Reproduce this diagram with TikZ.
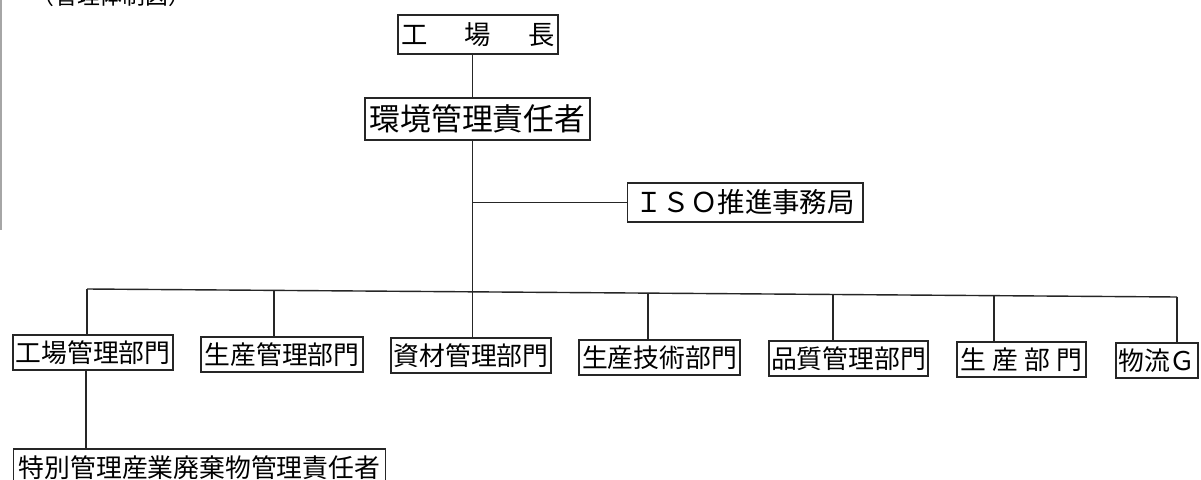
\documentclass[tikz,border=0pt]{standalone}
\usepackage{fontspec}
\newfontfamily\cjk{Noto Sans CJK JP}
\begin{document}
\begin{tikzpicture}[x=0.02cm,y=-0.02cm,
  box/.style={draw=black!85, line width=0.6pt, inner sep=0pt, align=center,
    font=\cjk\fontsize{14.7}{16}\selectfont},
  conn/.style={draw=black!85, line width=0.8pt},
  scanedge/.style={draw=black!35, line width=1.2pt}]
\useasboundingbox (0,0) rectangle (1201,480);
\fill[white] (0,0) rectangle (1201,480);
\draw[scanedge] (1,0) -- (1,230);
% title (partly cut at top)
\node[anchor=base west, inner sep=0pt, font=\cjk\fontsize{13}{14}\selectfont] (title) at (31,5) {（管理体制図）};
% nodes
\node[box, minimum width=3.2cm, minimum height=0.78cm, font=\cjk\fontsize{15}{16}\selectfont] (top) at (478,34.5) {工\hspace{1.4em}場\hspace{1.4em}長};
\node[box, minimum width=4.5cm, minimum height=0.84cm, font=\cjk\fontsize{17.5}{19}\selectfont] (env) at (477.5,119) {環境管理責任者};
\node[box, minimum width=4.72cm, minimum height=0.78cm, font=\cjk\fontsize{15.6}{17}\selectfont] (iso) at (745,202.5) {ＩＳＯ推進事務局};
\node[box, minimum width=3.2cm, minimum height=0.7cm] (n1) at (93,352.5) {工場管理部門};
\node[box, minimum width=3.24cm, minimum height=0.7cm] (n2) at (282,354.5) {生産管理部門};
\node[box, minimum width=3.2cm, minimum height=0.7cm] (n3) at (471,355.5) {資材管理部門};
\node[box, minimum width=3.22cm, minimum height=0.7cm] (n4) at (659.5,357.5) {生産技術部門};
\node[box, minimum width=3.18cm, minimum height=0.7cm] (n5) at (848.5,358.5) {品質管理部門};
\node[box, minimum width=2.58cm, minimum height=0.7cm] (n6) at (1021.5,359.5) {生\hspace{0.25em}産\hspace{0.25em}部\hspace{0.25em}門};
\node[box, minimum width=1.64cm, minimum height=0.7cm] (n7) at (1157,360.5) {物流Ｇ};
\node[box, minimum width=7.46cm, minimum height=0.74cm] (sp) at (199.5,467.5) {特別管理産業廃棄物管理責任者};
% junction coordinates
\coordinate (spine) at (472.5,0);
\coordinate (d1) at (87,289);
\coordinate (d2) at (274,290.4);
\coordinate (d3) at (472.5,291.8);
\coordinate (d4) at (648,293.1);
\coordinate (d5) at (833,294.5);
\coordinate (d6) at (994,295.7);
\coordinate (d7) at (1177,297);
\coordinate (k) at (86,0);
% connectors
\draw[conn] (top.south -| spine) -- (env.north -| spine);
\draw[conn] (env.south -| spine) -- (d3);
\draw[conn] (iso.west) -- (iso.west -| spine);
\draw[conn] (d1) -- (d7);
\draw[conn] (d1) -- (d1 |- n1.north);
\draw[conn] (d2) -- (d2 |- n2.north);
\draw[conn] (d3) -- (d3 |- n3.north);
\draw[conn] (d4) -- (d4 |- n4.north);
\draw[conn] (d5) -- (d5 |- n5.north);
\draw[conn] (d6) -- (d6 |- n6.north);
\draw[conn] (d7) -- (d7 |- n7.north);
\draw[conn] (n1.south -| k) -- (sp.north -| k);
\end{tikzpicture}
\end{document}
